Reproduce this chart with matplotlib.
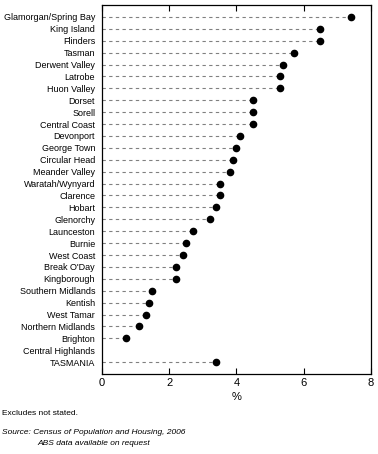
import numpy as np
import matplotlib.pyplot as plt

plt.rcParams['font.family'] = ['Liberation Sans', 'DejaVu Sans']

regions = ["Glamorgan/Spring Bay", "King Island", "Flinders", "Tasman",
           "Derwent Valley", "Latrobe", "Huon Valley", "Dorset", "Sorell",
           "Central Coast", "Devonport", "George Town", "Circular Head",
           "Meander Valley", "Waratah/Wynyard", "Clarence", "Hobart",
           "Glenorchy", "Launceston", "Burnie", "West Coast", "Break O'Day",
           "Kingborough", "Southern Midlands", "Kentish", "West Tamar",
           "Northern Midlands", "Brighton", "Central Highlands", "TASMANIA"]
values = [7.4, 6.5, 6.5, 5.7, 5.4, 5.3, 5.3, 4.5, 4.5, 4.5, 4.1, 4.0, 3.9,
          3.8, 3.5, 3.5, 3.4, 3.2, 2.7, 2.5, 2.4, 2.2, 2.2, 1.5, 1.4, 1.3,
          1.1, 0.7, np.nan, 3.4]

fig = plt.figure(figsize=(3.78, 4.54), dpi=100)
ax = fig.add_axes([0.27, 0.176, 0.711, 0.813])

y = np.arange(len(regions))
for yi, v in zip(y, values):
    if np.isnan(v):
        continue
    ax.plot([0, v], [yi, yi], color='#808080', lw=0.8, dashes=(3, 3))
ax.plot(values, y, 'o', color='black', markersize=4.5, linestyle='none')

ax.set_xlim(0, 8)
ax.set_ylim(len(regions), -1)
ax.set_xticks([0, 2, 4, 6, 8])
ax.set_yticks(y)
ax.set_yticklabels(regions, fontsize=6.5)
ax.tick_params(axis='y', length=0, pad=5)
ax.tick_params(axis='x', direction='in', top=True, length=4, labelsize=8, pad=3)
ax.set_xlabel('%', fontsize=8, labelpad=3)
for s in ax.spines.values():
    s.set_linewidth(0.9)

fig.text(0.005, 0.086, "Excludes not stated.", fontsize=6)
fig.text(0.005, 0.045, "Source: Census of Population and Housing, 2006", fontsize=6,
         style='italic')
fig.text(0.098, 0.019, "ABS data available on request", fontsize=6,
         style='italic')

fig.savefig('out.png', dpi=100)
